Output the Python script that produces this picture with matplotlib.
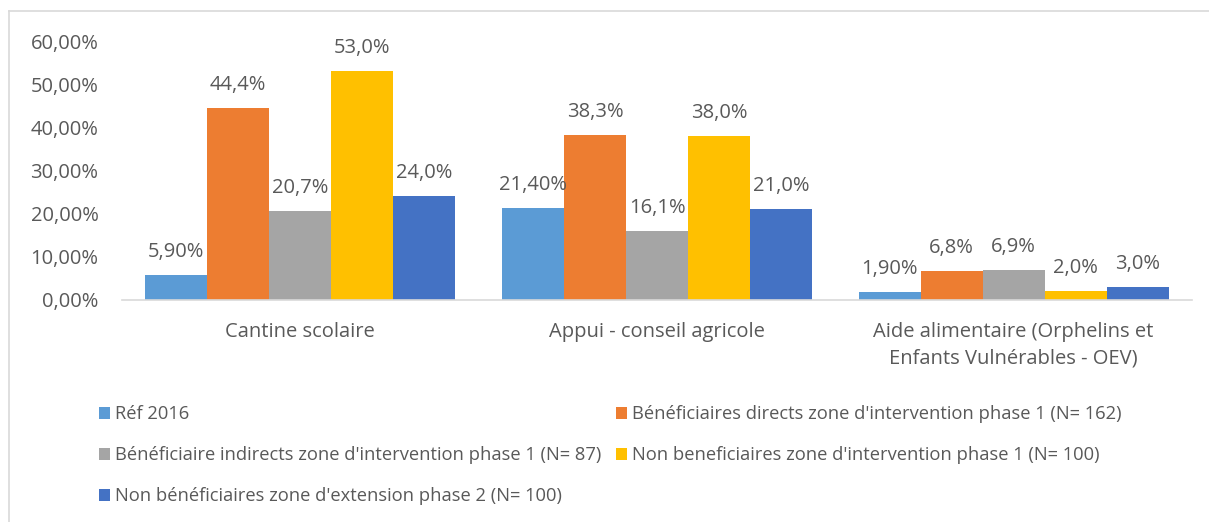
import matplotlib.pyplot as plt
import matplotlib.lines as mlines
import numpy as np

plt.rcParams['font.family'] = ['Open Sans', 'DejaVu Sans']

categories = ['Cantine scolaire', 'Appui - conseil agricole',
              'Aide alimentaire (Orphelins et\nEnfants Vulnérables - OEV)']
series_names = ['Réf 2016',
                "Bénéficiaires directs zone d'intervention phase 1 (N= 162)",
                "Bénéficiaire indirects zone d'intervention phase 1 (N= 87)",
                "Non beneficiaires zone d'intervention phase 1 (N= 100)",
                "Non bénéficiaires zone d'extension phase 2 (N= 100)"]
ref_2016 = [5.9, 21.4, 1.9]
directs = [44.4, 38.3, 6.8]
indirects = [20.7, 16.1, 6.9]
non_benef = [53.0, 38.0, 2.0]
extension = [24.0, 21.0, 3.0]
series = [ref_2016, directs, indirects, non_benef, extension]
decimals = [2, 1, 1, 1, 1]
colors = ['#5B9BD5', '#ED7D31', '#A5A5A5', '#FFC000', '#4472C4']
txt = '#595959'

W, H = 1209, 522
fig = plt.figure(figsize=(W / 100, H / 100), dpi=100)
ax = fig.add_axes([122 / W, 1 - 300 / H, 1070 / W, 259 / H])

x = np.arange(len(categories))
bw = 0.87 / len(series)
handles = []
for i, (vals, name) in enumerate(zip(series, series_names)):
    pos = x - 0.435 + bw * (i + 0.5)
    b = ax.bar(pos, vals, bw, color=colors[i], label=name, zorder=2)
    handles.append(b)
    for p, v in zip(pos, vals):
        lab = f'{v:.{decimals[i]}f}%'.replace('.', ',')
        ax.text(p, v + 3.0, lab, ha='center', va='bottom', fontsize=14.5, color=txt)

ax.set_xlim(-0.5, 2.5)
ax.set_ylim(0, 60)
ax.set_yticks(range(0, 61, 10))
ax.set_yticklabels([f'{t},00%' for t in range(0, 61, 10)])
ax.set_xticks(x)
ax.set_xticklabels(categories, linespacing=1.45)
ax.tick_params(axis='both', length=0, labelsize=14.5, colors=txt)
ax.tick_params(axis='y', pad=17)
ax.tick_params(axis='x', pad=16)
for s in ['top', 'right', 'left']:
    ax.spines[s].set_visible(False)
ax.spines['bottom'].set_color('#D9D9D9')
ax.spines['bottom'].set_linewidth(1.2)

# legend is filled row by row in the reference
order = [0, 2, 4, 1, 3]
leg = fig.legend(handles=[handles[k] for k in order], loc='upper left',
                 bbox_to_anchor=(82 / W, 1 - 389 / H),
                 ncol=2, frameon=False, fontsize=13.2, handlelength=0.6, handleheight=0.6,
                 handletextpad=0.3, columnspacing=0.8, labelspacing=1.25, labelcolor=txt)

# chart border
fig.add_artist(mlines.Line2D([9 / W, 9 / W], [0, 1 - 11 / H], color='#D9D9D9', lw=1.2))
fig.add_artist(mlines.Line2D([9 / W, 1], [1 - 11 / H, 1 - 11 / H], color='#D9D9D9', lw=1.2))

fig.savefig('out.png', dpi=100)
